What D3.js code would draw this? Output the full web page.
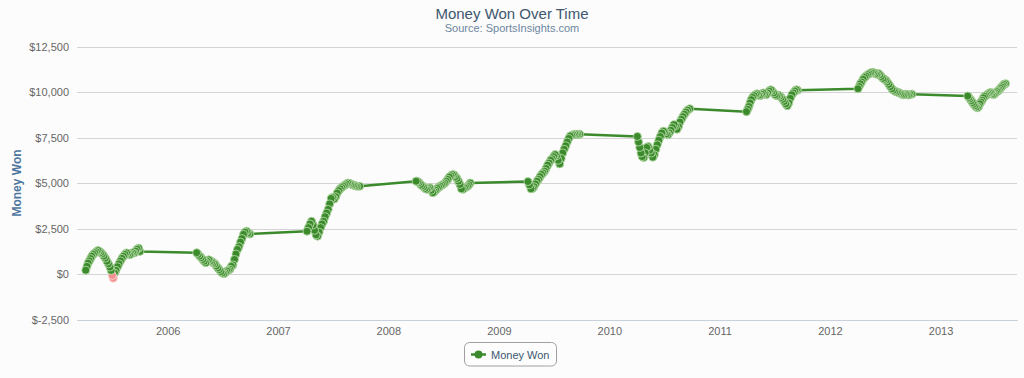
<!DOCTYPE html>
<html>
<head>
<meta charset="utf-8">
<script src="https://cdn.jsdelivr.net/npm/d3@7"></script>
<style>
  html, body { margin: 0; padding: 0; background: #fcfcfc; }
  svg { display: block; font-family: "Liberation Sans", Arial, sans-serif; }
</style>
</head>
<body>
<script>
// cumulative money won, one entry per tracked date
const gameDates = [
  "2005-04-05","2005-04-09","2005-04-13","2005-04-17","2005-04-21","2005-04-25","2005-04-30","2005-05-05","2005-05-10","2005-05-15",
  "2005-05-20","2005-05-25","2005-05-30","2005-06-04","2005-06-09","2005-06-14","2005-06-19","2005-06-24","2005-06-28","2005-07-02",
  "2005-07-05","2005-07-09","2005-07-14","2005-07-19","2005-07-24","2005-07-29","2005-08-03","2005-08-08","2005-08-13","2005-08-18",
  "2005-08-23","2005-08-28","2005-09-02","2005-09-07","2005-09-12","2005-09-17","2005-09-22","2005-09-27","2005-10-01",
  "2006-04-07","2006-04-12","2006-04-17","2006-04-22","2006-04-27","2006-05-02","2006-05-07","2006-05-12","2006-05-17","2006-05-22",
  "2006-05-27","2006-06-01","2006-06-06","2006-06-11","2006-06-16","2006-06-21","2006-06-26","2006-07-01","2006-07-06","2006-07-11",
  "2006-07-16","2006-07-21","2006-07-26","2006-07-31","2006-08-05","2006-08-10","2006-08-15","2006-08-20","2006-08-25","2006-08-30",
  "2006-09-04","2006-09-09","2006-09-14","2006-09-19","2006-09-24","2006-09-30",
  "2007-04-07","2007-04-12","2007-04-17","2007-04-22","2007-04-27","2007-05-02","2007-05-07","2007-05-12","2007-05-17","2007-05-22",
  "2007-05-27","2007-06-01","2007-06-06","2007-06-11","2007-06-16","2007-06-21","2007-06-26","2007-07-01","2007-07-06","2007-07-11",
  "2007-07-16","2007-07-21","2007-07-26","2007-07-31","2007-08-05","2007-08-10","2007-08-15","2007-08-20","2007-08-25","2007-08-30",
  "2007-09-04","2007-09-09","2007-09-14","2007-09-19","2007-09-28",
  "2008-04-02","2008-04-07","2008-04-12","2008-04-17","2008-04-22","2008-04-27","2008-05-02","2008-05-07","2008-05-12","2008-05-17",
  "2008-05-22","2008-05-27","2008-06-01","2008-06-06","2008-06-11","2008-06-16","2008-06-21","2008-06-26","2008-07-01","2008-07-06",
  "2008-07-11","2008-07-16","2008-07-21","2008-07-26","2008-07-31","2008-08-05","2008-08-10","2008-08-15","2008-08-20","2008-08-25",
  "2008-08-30","2008-09-04","2008-09-09","2008-09-14","2008-09-19","2008-09-24","2008-09-28",
  "2009-04-07","2009-04-12","2009-04-17","2009-04-22","2009-04-27","2009-05-02","2009-05-07","2009-05-12","2009-05-17","2009-05-22",
  "2009-05-27","2009-06-01","2009-06-06","2009-06-11","2009-06-16","2009-06-21","2009-06-26","2009-07-01","2009-07-06","2009-07-11",
  "2009-07-16","2009-07-21","2009-07-26","2009-07-31","2009-08-05","2009-08-10","2009-08-15","2009-08-20","2009-08-25","2009-08-30",
  "2009-09-04","2009-09-09","2009-09-14","2009-09-19","2009-09-25",
  "2010-04-04","2010-04-08","2010-04-12","2010-04-16","2010-04-20","2010-04-25","2010-04-30","2010-05-05","2010-05-10","2010-05-15",
  "2010-05-20","2010-05-25","2010-05-30","2010-06-04","2010-06-09","2010-06-14","2010-06-19","2010-06-24","2010-06-29","2010-07-04",
  "2010-07-09","2010-07-14","2010-07-19","2010-07-24","2010-07-29","2010-08-03","2010-08-08","2010-08-13","2010-08-18","2010-08-23",
  "2010-08-28","2010-09-02","2010-09-07","2010-09-12","2010-09-17","2010-09-24",
  "2011-03-31","2011-04-04","2011-04-08","2011-04-12","2011-04-16","2011-04-20","2011-04-25","2011-04-30","2011-05-05","2011-05-10",
  "2011-05-15","2011-05-20","2011-05-25","2011-05-30","2011-06-04","2011-06-09","2011-06-14","2011-06-19","2011-06-24","2011-06-29",
  "2011-07-04","2011-07-09","2011-07-14","2011-07-19","2011-07-24","2011-07-29","2011-08-03","2011-08-08","2011-08-13","2011-08-18",
  "2011-08-23","2011-08-28","2011-09-02","2011-09-07","2011-09-12","2011-09-16",
  "2012-04-03","2012-04-07","2012-04-11","2012-04-15","2012-04-20","2012-04-25","2012-04-30","2012-05-05","2012-05-10","2012-05-15",
  "2012-05-20","2012-05-25","2012-05-30","2012-06-04","2012-06-09","2012-06-14","2012-06-19","2012-06-24","2012-06-29","2012-07-04",
  "2012-07-09","2012-07-14","2012-07-19","2012-07-24","2012-07-29","2012-08-03","2012-08-08","2012-08-13","2012-08-18","2012-08-23",
  "2012-08-28","2012-09-02","2012-09-07","2012-09-12","2012-09-17","2012-09-22","2012-09-28",
  "2013-04-01","2013-04-05","2013-04-09","2013-04-13","2013-04-17","2013-04-21","2013-04-25","2013-04-29","2013-05-03","2013-05-07",
  "2013-05-11","2013-05-15","2013-05-19","2013-05-23","2013-05-27","2013-05-31","2013-06-04","2013-06-08","2013-06-12","2013-06-16",
  "2013-06-20","2013-06-24","2013-06-28","2013-07-02","2013-07-06","2013-07-10","2013-07-14","2013-07-18","2013-07-22","2013-07-26",
  "2013-07-30","2013-08-04"
];
const moneyWon = [
  210, 420, 600, 720, 850, 980, 1080, 1160, 1220, 1290,
  1250, 1180, 1100, 980, 870, 700, 560, 380, 200, -80,
  -230, 60, 200, 400, 560, 720, 860, 980, 1080, 1160,
  1120, 1060, 1110, 1170, 1150, 1260, 1360, 1420, 1240,
  1170, 1080, 980, 900, 800, 700, 620, 700, 780, 720,
  680, 620, 560, 440, 330, 240, 130, 60, 20, 80,
  160, 200, 260, 420, 500, 800, 1100, 1350, 1500, 1750,
  1950, 2180, 2300, 2350, 2260, 2200,
  2350, 2550, 2750, 2900, 2700, 2400, 2150, 2080, 2300, 2550,
  2750, 2900, 3150, 3350, 3550, 3850, 4150, 4200, 4120, 4250,
  4450, 4580, 4680, 4750, 4820, 4880, 4950, 5000, 4980, 4940,
  4900, 4880, 4850, 4820, 4820,
  5100, 5080, 5020, 4920, 4850, 4780, 4700, 4650, 4700, 4740,
  4600, 4470, 4520, 4600, 4700, 4760, 4830, 4880, 4930, 5000,
  5100, 5200, 5330, 5400, 5460, 5450, 5350, 5250, 5100, 4920,
  4680, 4650, 4720, 4760, 4820, 4900, 5000,
  5080, 4900, 4680, 4700, 4800, 4950, 5100, 5200, 5350, 5470,
  5550, 5650, 5800, 5980, 6100, 6250, 6330, 6450, 6560, 6500,
  6250, 6050, 6350, 6650, 6850, 7050, 7250, 7450, 7580, 7620,
  7650, 7680, 7660, 7670, 7680,
  7560, 7250, 6950, 6650, 6450, 6400, 6650, 6950, 7000, 6800,
  6650, 6420, 6550, 6850, 7100, 7350, 7550, 7750, 7850, 7800,
  7700, 7650, 7750, 7900, 8050, 8200, 8150, 7950, 8100, 8350,
  8500, 8650, 8780, 8900, 9000, 9080,
  8920, 9050, 9200, 9400, 9580, 9700, 9800, 9850, 9900, 9830,
  9800, 9880, 9950, 9900, 9850, 9950, 10050, 10120, 10050, 9950,
  9850, 9800, 9830, 9780, 9700, 9600, 9480, 9350, 9250, 9400,
  9650, 9850, 9950, 10050, 10120, 10100,
  10180, 10300, 10450, 10550, 10700, 10800, 10880, 10950, 11000, 11050,
  11080, 11060, 11000, 10980, 11020, 10950, 10850, 10750, 10700, 10650,
  10550, 10420, 10300, 10180, 10100, 10050, 10000, 9980, 9950, 9900,
  9860, 9840, 9880, 9850, 9830, 9870, 9880,
  9780, 9700, 9620, 9520, 9420, 9330, 9250, 9180, 9130, 9200,
  9350, 9450, 9550, 9680, 9760, 9800, 9850, 9900, 9950, 9970,
  9900, 9860, 9880, 9950, 10020, 10060, 10120, 10200, 10280, 10350,
  10420, 10460
];
const yTicks = [-2500, 0, 2500, 5000, 7500, 10000, 12500];
const xTickYears = [2006, 2007, 2008, 2009, 2010, 2011, 2012, 2013];
const seriesName = "Money Won";

const W = 1024, H = 378;
const plot = { left: 77, right: 1017, top: 46.5, bottom: 319.5 };
const lineColor = "#3b8a2c";
const negColor = "#f29090";

const parseDate = d3.timeParse("%Y-%m-%d");
const points = gameDates.map((d, i) => ({ date: parseDate(d), value: moneyWon[i] }));

const x = d3.scaleTime()
  .domain([new Date(2005, 2, 7), new Date(2013, 8, 11)])
  .range([plot.left, plot.right]);
const y = d3.scaleLinear()
  .domain([-2500, 12500])
  .range([plot.bottom, plot.top]);

const svg = d3.select("body").append("svg").attr("width", W).attr("height", H);
svg.append("rect").attr("width", W).attr("height", H).attr("fill", "#fcfcfc");

// titles
svg.append("text").attr("x", 512).attr("y", 19).attr("text-anchor", "middle")
  .attr("font-size", 15).attr("fill", "#3e576f").text("Money Won Over Time");
svg.append("text").attr("x", 512).attr("y", 32).attr("text-anchor", "middle")
  .attr("font-size", 11).attr("fill", "#6d869f").text("Source: SportsInsights.com");

// y axis with grid lines
const money = v => (v < 0 ? "$-" : "$") + d3.format(",")(Math.abs(v));
const yAxis = svg.append("g").attr("transform", "translate(" + plot.left + ",0)")
  .call(d3.axisLeft(y).tickValues(yTicks).tickSize(-(plot.right - plot.left)).tickPadding(8).tickFormat(money));
yAxis.select(".domain").remove();
yAxis.selectAll(".tick line").attr("stroke", "#d4d4d4").attr("shape-rendering", "crispEdges");
yAxis.selectAll(".tick text").attr("fill", "#666").attr("font-size", 11)
  .attr("font-family", "Liberation Sans, Arial, sans-serif");

svg.append("text")
  .attr("transform", "translate(16.5," + ((plot.top + plot.bottom) / 2) + ") rotate(-90)")
  .attr("text-anchor", "middle").attr("dy", "0.35em")
  .attr("font-size", 12).attr("font-weight", "bold").attr("fill", "#4d759e")
  .text(seriesName);

// x axis (no visible tick marks)
const xAxis = svg.append("g").attr("transform", "translate(0," + plot.bottom + ")")
  .call(d3.axisBottom(x).tickValues(xTickYears.map(yr => new Date(yr, 0, 1)))
    .tickSize(0).tickPadding(8).tickFormat(d3.timeFormat("%Y")));
xAxis.select(".domain").attr("stroke", "#c8d2dc").attr("shape-rendering", "crispEdges");
xAxis.selectAll(".tick text").attr("fill", "#666").attr("font-size", 11)
  .attr("font-family", "Liberation Sans, Arial, sans-serif");

// series
const line = d3.line().x(d => x(d.date)).y(d => y(d.value));
svg.append("path").datum(points)
  .attr("d", line).attr("fill", "none")
  .attr("stroke", lineColor).attr("stroke-width", 2.5).attr("stroke-linejoin", "round");

// markers: earlier points end up on top
svg.append("g").selectAll("circle").data(points.slice().reverse()).join("circle")
  .attr("cx", d => x(d.date)).attr("cy", d => y(d.value)).attr("r", 4)
  .attr("fill", d => d.value < 0 ? negColor : lineColor)
  .attr("stroke", d => d.value < 0 ? "#f8d0d0" : "#b2d8a4").attr("stroke-width", 0.9);

// legend
const legend = svg.append("g");
legend.append("rect").attr("x", 464.5).attr("y", 342.5).attr("width", 92).attr("height", 23.5)
  .attr("rx", 5).attr("fill", "#fdfdfd").attr("stroke", "#a0a0a0");
legend.append("line").attr("x1", 471).attr("x2", 486).attr("y1", 354.5).attr("y2", 354.5)
  .attr("stroke", lineColor).attr("stroke-width", 2.5);
legend.append("circle").attr("cx", 478.5).attr("cy", 354.5).attr("r", 4).attr("fill", lineColor);
legend.append("text").attr("x", 491).attr("y", 358.5).attr("font-size", 11).attr("fill", "#3e576f")
  .text(seriesName);
</script>
</body>
</html>
